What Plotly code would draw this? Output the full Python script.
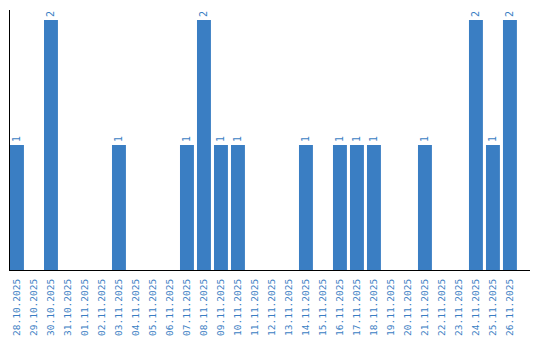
import plotly.graph_objects as go

dates = ["28.10.2025", "29.10.2025", "30.10.2025", "31.10.2025", "01.11.2025", "02.11.2025",
         "03.11.2025", "04.11.2025", "05.11.2025", "06.11.2025", "07.11.2025", "08.11.2025",
         "09.11.2025", "10.11.2025", "11.11.2025", "12.11.2025", "13.11.2025", "14.11.2025",
         "15.11.2025", "16.11.2025", "17.11.2025", "18.11.2025", "19.11.2025", "20.11.2025",
         "21.11.2025", "22.11.2025", "23.11.2025", "24.11.2025", "25.11.2025", "26.11.2025"]
counts = [1, 0, 2, 0, 0, 0, 1, 0, 0, 0, 1, 2, 1, 1, 0, 0, 0, 1, 0, 1, 1, 1, 0, 0, 1, 0, 0, 2, 1, 2]

blue = "#3a7ec3"
labels = [str(v) if v > 0 else "" for v in counts]

fig = go.Figure(go.Bar(
    x=dates, y=counts, marker_color=blue, marker_line_width=0,
    text=labels, textposition="outside", textangle=-90,
    textfont=dict(color=blue, size=10, family="DejaVu Sans Mono"),
    cliponaxis=False,
))
fig.update_layout(
    width=540, height=340,
    margin=dict(l=10, r=10, t=10, b=70, autoexpand=False),
    paper_bgcolor="white", plot_bgcolor="white",
    bargap=0.18, showlegend=False,
    xaxis=dict(type="category", range=[-0.41, 30.18], showline=True, linecolor="black",
               linewidth=1, showgrid=False, ticks="", tickangle=-90, automargin=False,
               ticklabelstandoff=4,
               tickfont=dict(color=blue, size=9.5, family="DejaVu Sans Mono")),
    yaxis=dict(range=[0, 2.08], showline=True, linecolor="black", linewidth=1,
               showgrid=False, zeroline=False, showticklabels=False, ticks="",
               automargin=False),
)
fig.write_html("out.html")
